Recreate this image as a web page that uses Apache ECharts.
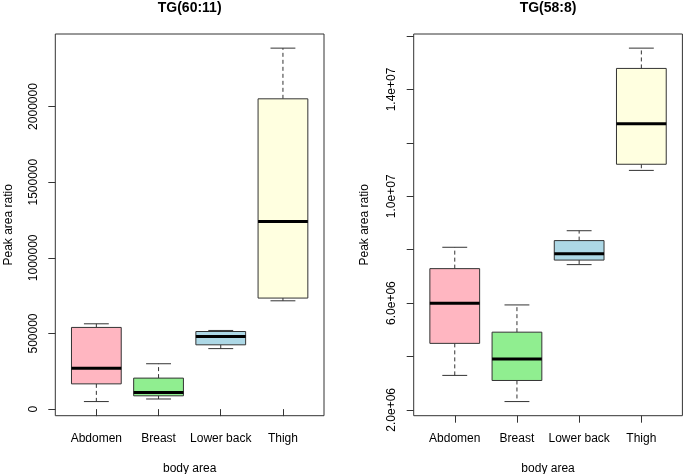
<!DOCTYPE html>
<html>
<head>
<meta charset="utf-8">
<script src="https://cdn.jsdelivr.net/npm/echarts@6/dist/echarts.min.js"></script>
<style>
html,body{margin:0;padding:0;background:#fff;}
#chart{width:683px;height:474px;}
</style>
</head>
<body>
<div id="chart"></div>
<script>
// ---- data ----
const categories = ['Abdomen', 'Breast', 'Lower back', 'Thigh'];
// stats per category: [lower whisker, Q1, median, Q3, upper whisker]
const tg6011 = [
  [50000, 167000, 271000, 540000, 564000],
  [67000, 88000, 110000, 205000, 300000],
  [400000, 425000, 480000, 513000, 520000],
  [716000, 734000, 1240000, 2051000, 2386000]
];
const tg588 = [
  [3290000, 4490000, 5990000, 7290000, 8090000],
  [2310000, 3100000, 3900000, 4910000, 5930000],
  [7440000, 7610000, 7850000, 8340000, 8710000],
  [10970000, 11200000, 12720000, 14790000, 15550000]
];
const titles = ['TG(60:11)', 'TG(58:8)'];
const leftTicks = [0, 500000, 1000000, 1500000, 2000000];
const leftLabels = [0, 500000, 1000000, 1500000, 2000000];
const rightTicks = [2000000, 4000000, 6000000, 8000000, 10000000, 12000000, 14000000, 16000000];
const rightLabels = [2000000, 6000000, 10000000, 14000000];
const boxColors = ['#FFB6C1', '#90EE90', '#ADD8E6', '#FFFFE0'];

// ---- helpers ----
const FONT = 'Liberation Sans, Arial, sans-serif';
const LINE = '#333';
function extent(stats) {
  let lo = Infinity, hi = -Infinity;
  stats.forEach(s => { lo = Math.min(lo, s[0]); hi = Math.max(hi, s[4]); });
  const pad = (hi - lo) * 0.04;
  return [lo - pad, hi + pad];
}
const xMin = 0.5 - 0.04 * categories.length, xMax = categories.length + 0.5 + 0.04 * categories.length;

function renderItem(params, api) {
  const x = api.value(0);
  const pMin = api.coord([x, api.value(1)]);
  const pQ1 = api.coord([x, api.value(2)]);
  const pMed = api.coord([x, api.value(3)]);
  const pQ3 = api.coord([x, api.value(4)]);
  const pMax = api.coord([x, api.value(5)]);
  const half = api.size([0.4, 0])[0];
  const cx = pMed[0];
  const staple = half / 2;
  const dashStyle = { stroke: LINE, lineWidth: 1, lineDash: [4, 3], fill: null };
  const solid = { stroke: LINE, lineWidth: 1, fill: null };
  return {
    type: 'group',
    children: [
      { type: 'line', shape: { x1: cx, y1: pQ3[1], x2: cx, y2: pMax[1] }, style: dashStyle },
      { type: 'line', shape: { x1: cx, y1: pQ1[1], x2: cx, y2: pMin[1] }, style: dashStyle },
      { type: 'line', shape: { x1: cx - staple, y1: pMax[1], x2: cx + staple, y2: pMax[1] }, style: solid },
      { type: 'line', shape: { x1: cx - staple, y1: pMin[1], x2: cx + staple, y2: pMin[1] }, style: solid },
      { type: 'rect', shape: { x: cx - half, y: pQ3[1], width: half * 2, height: pQ1[1] - pQ3[1] },
        style: { fill: boxColors[params.dataIndex], stroke: LINE, lineWidth: 1 } },
      { type: 'line', shape: { x1: cx - half, y1: pMed[1], x2: cx + half, y2: pMed[1] },
        style: { stroke: '#000', lineWidth: 3 } }
    ]
  };
}

function sciFmt(v) {
  return v.toExponential(1).replace(/e\+(\d)$/, 'e+0$1').replace(/e-(\d)$/, 'e-0$1');
}

const grids = [
  { left: 55.3, top: 34, width: 268.7, height: 381.7 },
  { left: 413.7, top: 34, width: 268.7, height: 381.7 }
];
const datasets = [tg6011, tg588];
const yTicks = [leftTicks, rightTicks];
const yLabels = [leftLabels, rightLabels];
const yFmt = [v => String(v), sciFmt];

const option = {
  animation: false,
  backgroundColor: '#fff',
  title: grids.map((g, i) => ({
    text: titles[i],
    left: g.left + g.width / 2,
    top: 1,
    padding: 0,
    textAlign: 'center',
    textStyle: { fontFamily: FONT, fontSize: 14, fontWeight: 'bold', color: '#000' }
  })),
  grid: grids.map(g => Object.assign({ show: true, borderColor: LINE, borderWidth: 1, backgroundColor: 'transparent',
    containLabel: false, outerBoundsMode: 'none' }, g)),
  xAxis: grids.map((g, i) => ({
    type: 'value', gridIndex: i, min: xMin, max: xMax,
    name: 'body area', nameLocation: 'middle', nameGap: 47,
    nameTextStyle: { fontFamily: FONT, fontSize: 12, color: '#000' },
    axisLine: { show: false }, splitLine: { show: false },
    axisTick: { show: true, length: 7, inside: false, customValues: [1, 2, 3, 4], lineStyle: { color: LINE } },
    axisLabel: { customValues: [1, 2, 3, 4], margin: 16.5, formatter: v => categories[Math.round(v) - 1],
      fontFamily: FONT, fontSize: 12, color: '#000' }
  })),
  yAxis: grids.map((g, i) => {
    const ext = extent(datasets[i]);
    return {
      type: 'value', gridIndex: i, min: ext[0], max: ext[1],
      name: 'Peak area ratio', nameLocation: 'middle', nameRotate: 90, nameGap: i === 0 ? 41 : 43,
      nameTextStyle: { fontFamily: FONT, fontSize: 12, color: '#000' },
      axisLine: { show: false }, splitLine: { show: false },
      axisTick: { show: true, length: 7, inside: false, customValues: yTicks[i], lineStyle: { color: LINE } },
      axisLabel: { customValues: yLabels[i], rotate: 90, margin: 16, formatter: yFmt[i],
        fontFamily: FONT, fontSize: 12, color: '#000' }
    };
  }),
  series: datasets.map((d, i) => ({
    type: 'custom', xAxisIndex: i, yAxisIndex: i,
    renderItem: renderItem,
    encode: { x: 0, y: [1, 2, 3, 4, 5] },
    data: d.map((s, k) => [k + 1].concat(s)),
    clip: false
  }))
};

const chart = echarts.init(document.getElementById('chart'), null, { renderer: 'canvas' });
chart.setOption(option);
</script>
</body>
</html>
